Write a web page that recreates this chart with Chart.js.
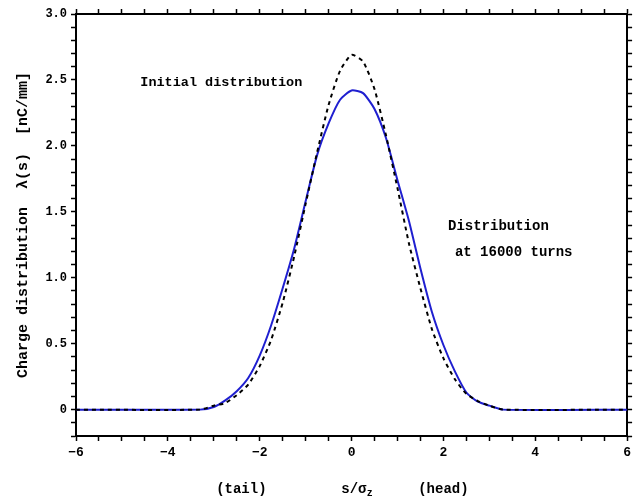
<!DOCTYPE html>
<html lang="en">
<head>
    <meta charset="UTF-8">
    <script src="https://cdn.jsdelivr.net/npm/chart.js"></script>
    <title>Charge distribution</title>
    <style>
        html, body { margin: 0; padding: 0; background: #fff; }
        #wrap { width: 635px; height: 497px; }
    </style>
</head>
<body>
    <div id="wrap"><canvas id="grafico" width="635" height="497"></canvas></div>

<script>
    // s/sigma_z positions
    const sValues = [-6, -3.3, -3.0, -2.75, -2.5, -2.25, -2.0, -1.75, -1.5, -1.25, -1.0, -0.75, -0.5, -0.25,
        0, 0.25, 0.5, 0.75, 1.0, 1.25, 1.5, 1.75, 2.0, 2.25, 2.5, 2.75, 3.0, 3.3, 6];
    // initial distribution (dashed), nC/mm
    const initialLambda = [0, 0, 0.03, 0.05, 0.11, 0.19, 0.33, 0.53, 0.81, 1.16, 1.56, 1.95, 2.31, 2.57,
        2.69, 2.64, 2.43, 2.08, 1.68, 1.26, 0.92, 0.61, 0.39, 0.23, 0.12, 0.065, 0.03, 0, 0];
    // distribution at 16000 turns (blue)
    const finalLambda = [0, 0, 0.02, 0.07, 0.14, 0.24, 0.41, 0.64, 0.92, 1.22, 1.58, 1.93, 2.17, 2.35,
        2.42, 2.40, 2.28, 2.06, 1.74, 1.43, 1.07, 0.74, 0.49, 0.29, 0.13, 0.06, 0.03, 0, 0];

    const xTickLabels = ['−6', '−4', '−2', '0', '2', '4', '6'];
    const yTickLabels = ['0', '0.5', '1.0', '1.5', '2.0', '2.5', '3.0'];

    const fonte = 'Liberation Mono';

    function pontos(ys) {
        return sValues.map((s, i) => ({ x: s, y: ys[i] }));
    }

    // texts inside the plot and the bottom axis title
    const textos = {
        id: 'textos',
        afterDraw(chart) {
            const ctx = chart.ctx;
            const x = chart.scales.x;
            const y = chart.scales.y;
            ctx.save();
            ctx.fillStyle = '#000';
            ctx.textBaseline = 'middle';
            ctx.font = 'bold 13.5px ' + fonte;
            ctx.textAlign = 'left';
            ctx.fillText('Initial distribution', x.getPixelForValue(-4.6), y.getPixelForValue(2.48));
            ctx.font = 'bold 14px ' + fonte;
            ctx.fillText('Distribution', x.getPixelForValue(2.1), y.getPixelForValue(1.39));
            ctx.fillText('at 16000 turns', x.getPixelForValue(2.25), y.getPixelForValue(1.19));

            ctx.font = 'bold 14px ' + fonte;
            ctx.textAlign = 'center';
            const yb = 489;
            ctx.fillText('(tail)', x.getPixelForValue(-2.4), yb);
            ctx.fillText('(head)', x.getPixelForValue(2.0), yb);
            const cx = x.getPixelForValue(0.05);
            ctx.fillText('s/σ', cx, yb);
            ctx.font = 'bold 10px ' + fonte;
            ctx.textAlign = 'left';
            ctx.fillText('z', cx + 13, yb + 4);
            ctx.restore();
        }
    };

    const eixo = {
        drawOnChartArea: false,
        drawTicks: true,
        tickLength: 5,
        color: '#000',
        tickColor: '#000',
        tickWidth: 1.5
    };
    const borda = { color: '#000', width: 2 };

    new Chart(document.getElementById('grafico').getContext('2d'), {
        type: 'line',
        data: {
            datasets: [{
                label: 'Initial distribution',
                data: pontos(initialLambda),
                borderColor: '#000',
                borderWidth: 2,
                borderDash: [4, 4],
                pointRadius: 0,
                tension: 0.2
            }, {
                label: 'Distribution at 16000 turns',
                data: pontos(finalLambda),
                borderColor: '#1f1fd0',
                borderWidth: 2,
                pointRadius: 0,
                tension: 0.2
            }]
        },
        options: {
            responsive: false,
            animation: false,
            layout: { padding: 0 },
            plugins: {
                legend: { display: false },
                tooltip: { enabled: false }
            },
            scales: {
                x: {
                    type: 'linear', position: 'bottom', min: -6, max: 6,
                    grid: eixo, border: borda,
                    ticks: {
                        stepSize: 0.5, autoSkip: false, maxRotation: 0, color: '#000', padding: 4,
                        font: { family: fonte, weight: 'bold', size: 13 },
                        callback: (v) => {
                            const k = Math.round(v * 2);
                            return k % 4 === 0 ? xTickLabels[(k + 12) / 4] : '';
                        }
                    },
                    afterFit: (s) => { s.height = 61; }
                },
                x2: {
                    type: 'linear', position: 'top', min: -6, max: 6,
                    grid: eixo, border: borda,
                    ticks: { stepSize: 0.5, autoSkip: false, display: false },
                    afterFit: (s) => { s.height = 14; }
                },
                y: {
                    type: 'linear', position: 'left', min: -0.2, max: 3.0,
                    grid: eixo, border: borda,
                    ticks: {
                        stepSize: 0.1, autoSkip: false, color: '#000', padding: 4,
                        font: { family: fonte, weight: 'bold', size: 12 },
                        callback: (v) => {
                            const k = Math.round(v * 10);
                            return (k >= 0 && k % 5 === 0) ? yTickLabels[k / 5] : '';
                        }
                    },
                    title: {
                        display: true,
                        text: 'Charge distribution  λ(s)  [nC/mm]',
                        color: '#000',
                        font: { family: fonte, weight: 'bold', size: 15 },
                        padding: { top: 14, bottom: 4 }
                    },
                    afterFit: (s) => { s.width = 76; }
                },
                y2: {
                    type: 'linear', position: 'right', min: -0.2, max: 3.0,
                    grid: eixo, border: borda,
                    ticks: { stepSize: 0.1, autoSkip: false, display: false },
                    afterFit: (s) => { s.width = 5; }
                }
            }
        },
        plugins: [textos]
    });
</script>
</body>
</html>
